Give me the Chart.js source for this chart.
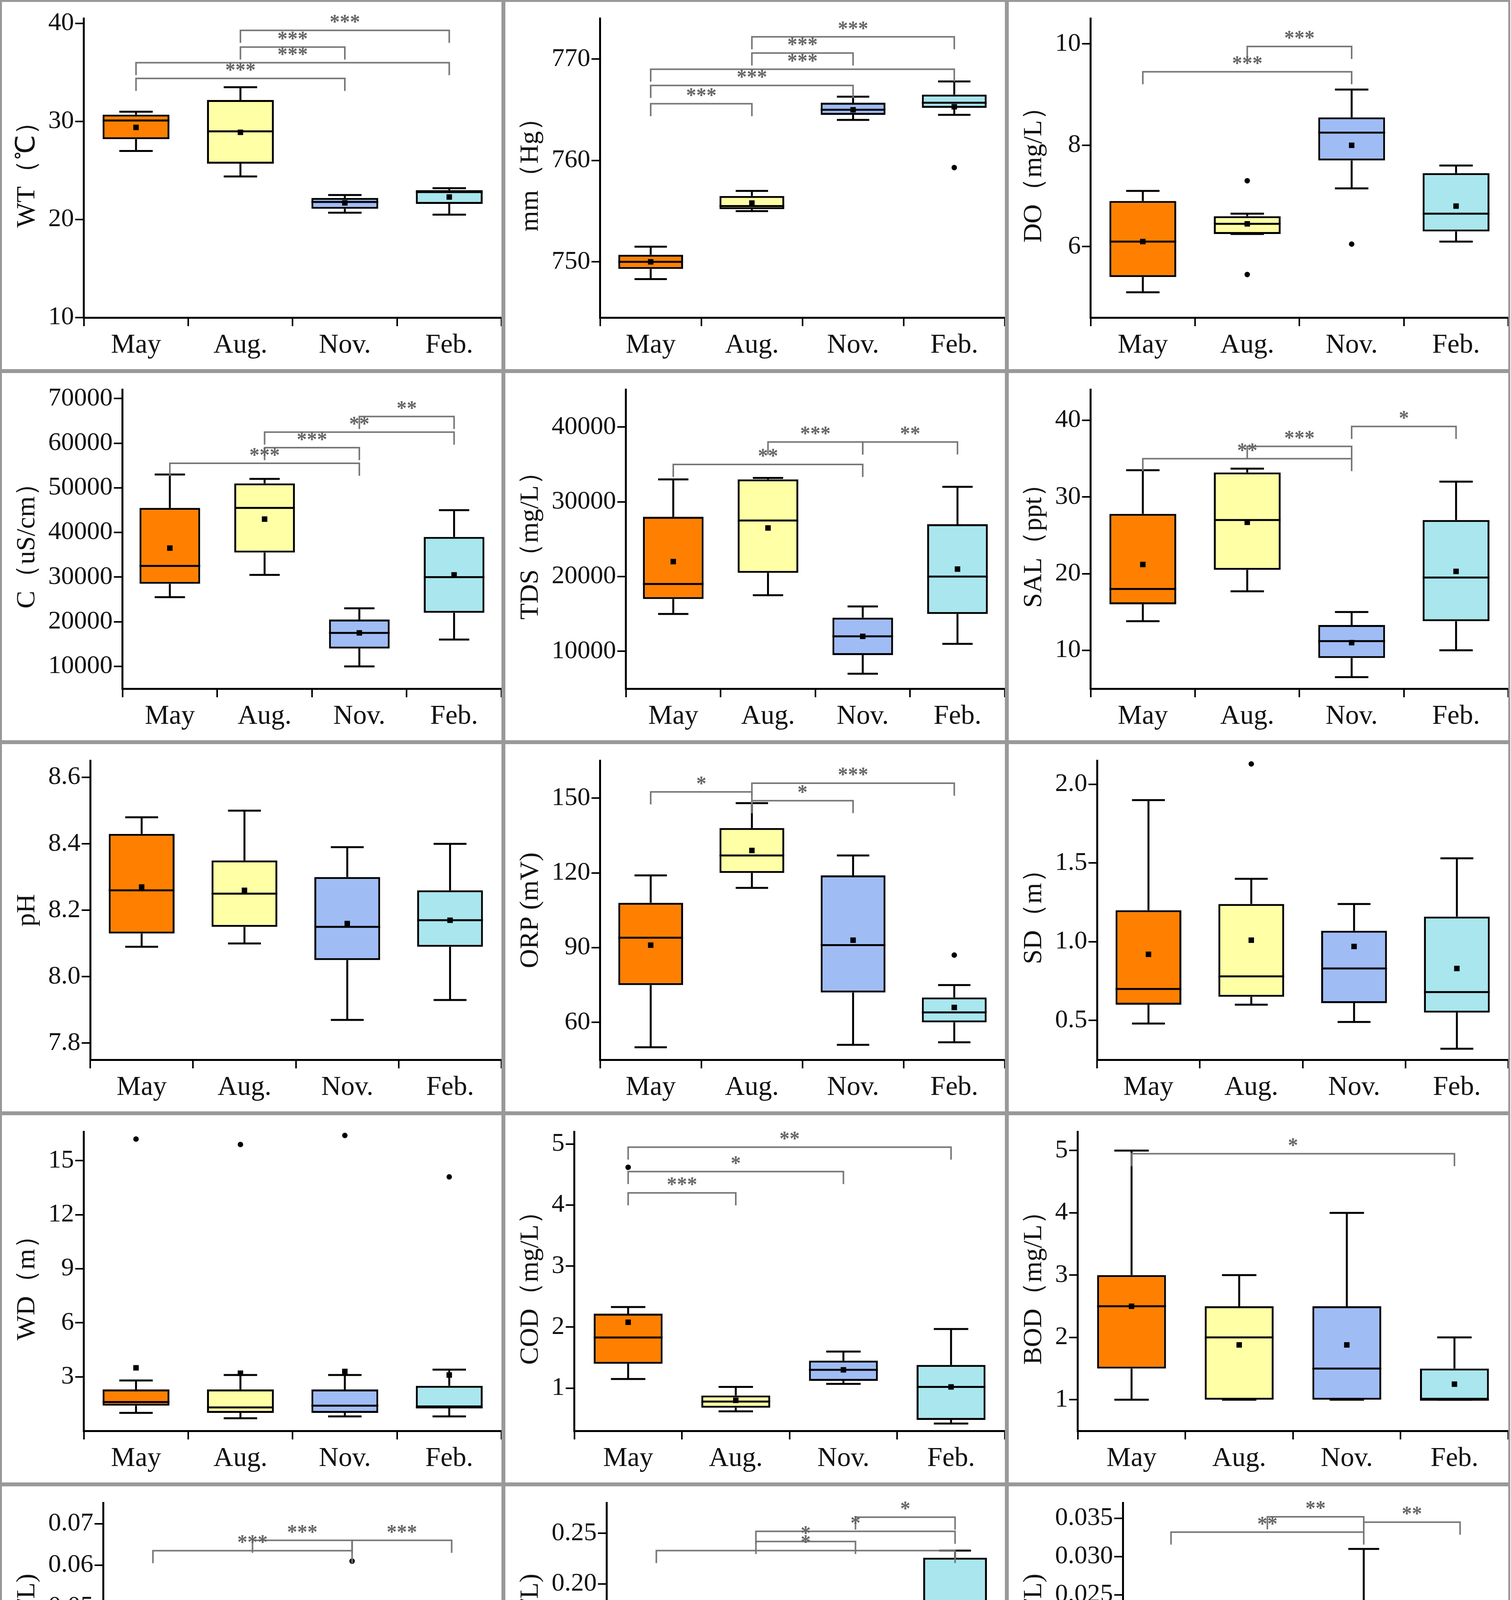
<!DOCTYPE html>
<html><head><meta charset="utf-8">
<script src="https://cdn.jsdelivr.net/npm/chart.js@4"></script>
<style>
body{margin:0;background:#fff;}
#grid{display:grid;grid-template-columns:repeat(3,1289px);grid-template-rows:repeat(6,950px);width:3869px;}
.cell{position:relative;border:5px solid #999;box-sizing:border-box;}
.cell canvas{position:absolute;left:0;top:0;}
</style></head><body><div id="grid"></div>
<script>
const categories=["May","Aug.","Nov.","Feb."];
const colors=["#FF8000","#FFFFA6","#9FBCF5","#A9E6EE"];
// each box: [whiskerLow, q1, median, q3, whiskerHigh]
const titles=["WT（℃）","mm（Hg）","DO（mg/L）","C（uS/cm）","TDS（mg/L）","SAL（ppt）","pH","ORP (mV)","SD（m）","WD（m）","COD（mg/L）","BOD（mg/L）","NH₃-N (mg/L)","NO₃-N (mg/L)","NO₂-N (mg/L)","TP（mg/L）","TN（mg/L）","Chla（mg/L）"];
const yMin=[10,744.5,4.6,5000,5000,5,7.75,45,0.25,0,0.3,0.5,0.003,-0.015,-0.002,0.01,0.08,-0.0008];
const yMax=[40.5,774,10.5,72000,45000,44,8.65,165,2.15,16.6,5.2,5.3,0.075,0.28,0.037,0.19,0.42,0.0168];
const yStep=[10,10,2,10000,10000,10,0.2,30,0.5,3,1,1,0.01,0.05,0.005,0.02,0.05,0.002];
const yFirst=[10,750,6,10000,10000,10,7.8,60,0.5,3,1,1,0.01,0,0,0.02,0.1,0];
const yDec=[0,0,0,0,0,0,1,0,1,0,0,0,2,2,3,2,2,3];
const boxes=[
[[27,28.2,30.1,30.7,31],[24.4,25.7,29,32.2,33.5],[20.7,21.1,21.8,22.2,22.5],[20.5,21.6,22.8,23,23.2]],
[[748.3,749.3,750,750.7,751.5],[755,755.2,755.5,756.5,757],[764,764.5,765,765.7,766.3],[764.5,765.2,765.7,766.5,767.8]],
[[5.1,5.4,6.1,6.9,7.1],[6.25,6.25,6.45,6.6,6.65],[7.15,7.7,8.25,8.55,9.1],[6.1,6.3,6.65,7.45,7.6]],
[[25500,28500,32500,45500,53000],[30500,35500,45500,51000,52000],[10000,14000,17500,20500,23000],[16000,22000,30000,39000,45000]],
[[15000,17000,19000,28000,33000],[17500,20500,27500,33000,33200],[7000,9500,12000,14500,16000],[11000,15000,20000,27000,32000]],
[[13.8,16,18,27.8,33.5],[17.7,20.5,27,33.2,33.7],[6.5,9,11.2,13.3,15],[10,13.8,19.5,27,32]],
[[8.09,8.13,8.26,8.43,8.48],[8.1,8.15,8.25,8.35,8.5],[7.87,8.05,8.15,8.3,8.39],[7.93,8.09,8.17,8.26,8.4]],
[[50,75,94,108,119],[114,120,127,138,148],[51,72,91,119,127],[52,60,64,70,75]],
[[0.48,0.6,0.7,1.2,1.9],[0.6,0.65,0.78,1.24,1.4],[0.49,0.61,0.83,1.07,1.24],[0.32,0.55,0.68,1.16,1.53]],
[[1.0,1.4,1.6,2.3,2.8],[0.7,1.0,1.3,2.3,3.1],[0.8,1.0,1.4,2.3,3.1],[0.8,1.3,1.3,2.5,3.4]],
[[1.15,1.4,1.83,2.22,2.33],[0.62,0.68,0.78,0.88,1.02],[1.07,1.12,1.3,1.45,1.6],[0.42,0.48,1.02,1.38,1.97]],
[[1,1.5,2.5,3,5],[1,1,2,2.5,3],[1,1,1.5,2.5,4],[1,1,1,1.5,2]],
[[0.0055,0.006,0.0065,0.0072,0.008],[0.008,0.0095,0.012,0.0145,0.016],[0.04,0.045,0.048,0.05,0.051],[0.005,0.006,0.0095,0.014,0.016]],
[[0.003,0.005,0.008,0.011,0.014],[0.001,0.002,0.003,0.004,0.005],[0.009,0.012,0.015,0.025,0.031],[0.0,0.085,0.155,0.226,0.233]],
[[0.002,0.0025,0.0045,0.0065,0.009],[0.001,0.0015,0.0025,0.0035,0.004],[0.014,0.0165,0.02,0.0225,0.031],[0.001,0.0015,0.002,0.0025,0.004]],
[[0.028,0.058,0.104,0.143,0.173],[0.019,0.026,0.058,0.107,0.129],[0.047,0.057,0.071,0.091,0.122],[0.023,0.03,0.039,0.051,0.059]],
[[0.138,0.155,0.168,0.2,0.24],[0.143,0.2,0.217,0.298,0.364],[0.173,0.186,0.22,0.241,0.26],[0.12,0.17,0.232,0.271,0.38]],
[[0.0003,0.0008,0.005,0.0068,0.0153],[0.0026,0.0029,0.0039,0.0073,0.0111],[0.0019,0.0029,0.0044,0.0052,0.0055],[0.0012,0.0024,0.0043,0.0051,0.0079]]
];
const means=[[29.4,28.9,21.7,22.3],[750,755.8,765,765.3],[6.1,6.45,8.0,6.8],[36500,43000,17500,30500],[22000,26500,12000,21000],[21.2,26.7,11,20.3],[8.27,8.26,8.16,8.17],[91,129,93,66],[0.92,1.01,0.97,0.83],[3.5,3.2,3.3,3.1],[2.08,0.8,1.3,1.02],[2.5,1.88,1.88,1.25],[0.0065,0.013,0.0485,0.0125],[0.007,0.004,0.018,0.146],[0.005,0.003,0.0195,0.0022],[0.101,0.066,0.076,0.041],[0.178,0.242,0.215,0.231],[0.0051,0.0052,0.0047,0.0041]];
const outliers=[[[],[],[],[]],[[],[],[],[759.3]],[[],[7.3,5.45],[6.05],[]],[[],[],[],[]],[[],[],[],[]],[[],[],[],[]],[[],[],[],[]],[[],[],[],[87]],[[],[2.13],[],[]],[[16.2],[15.9],[16.4],[14.1]],[[4.62],[],[],[]],[[],[],[],[]],[[],[0.023],[0.061],[0.035]],[[],[0.011],[],[]],[[],[0.009],[0.006],[]],[[],[],[],[]],[[],[],[],[]],[[],[],[0.0105],[]]];
// brackets: [from, to, y, label]
const brackets=[
[[1,3,39.3,"***"],[1,2,37.6,"***"],[0,3,36.0,"***"],[0,2,34.4,"***"]],
[[1,3,772.2,"***"],[1,2,770.6,"***"],[0,3,769.0,"***"],[0,2,767.4,"***"],[0,1,765.6,"***"]],
[[1,2,9.95,"***"],[0,2,9.45,"***"]],
[[2,3,66000,"**"],[1,3,62500,"**"],[1,2,59000,"***"],[0,2,55500,"***"]],
[[1,2,38000,"***"],[2,3,38000,"**"],[0,2,35000,"**"]],
[[2,3,39.2,"*"],[1,2,36.6,"***"],[0,2,35.0,"**"]],
[],
[[1,3,156,"***"],[0,1,152.5,"*"],[1,2,149,"*"]],
[],
[],
[[0,3,4.95,"**"],[0,2,4.55,"*"],[0,1,4.2,"***"]],
[[0,3,4.95,"*"]],
[[1,2,0.066,"***"],[2,3,0.066,"***"],[0,2,0.0635,"***"]],
[[2,3,0.266,"*"],[1,3,0.252,"*"],[1,2,0.242,"*"],[0,3,0.233,"*"]],
[[1,2,0.0352,"**"],[2,3,0.0345,"**"],[0,2,0.0332,"**"]],
[[2,3,0.165,"*"]],
[[0,1,0.385,"*"]],
[]
];
const boxPlugin={id:'box',afterDatasetsDraw(chart){
  const k=chart.options.plugins.box.k;const ctx=chart.ctx;const xs=chart.scales.x,ys=chart.scales.y;
  const meta=chart.getDatasetMeta(0);
  ctx.save();
  boxes[k].forEach((b,i)=>{
    const x=xs.getPixelForValue(i);const w=meta.data[i].width;const cw=w*0.5;
    ctx.strokeStyle='#000';ctx.lineWidth=5;
    const line=(x1,y1,x2,y2)=>{ctx.beginPath();ctx.moveTo(x1,y1);ctx.lineTo(x2,y2);ctx.stroke();};
    const p=v=>ys.getPixelForValue(v);
    line(x,p(b[0]),x,p(b[1]));line(x,p(b[3]),x,p(b[4]));
    line(x-cw/2,p(b[0]),x+cw/2,p(b[0]));line(x-cw/2,p(b[4]),x+cw/2,p(b[4]));
    line(x-w/2,p(b[2]),x+w/2,p(b[2]));
    ctx.fillStyle='#000';
    ctx.fillRect(x-7,p(means[k][i])-7,14,14);
    outliers[k][i].forEach(o=>{ctx.beginPath();ctx.arc(x,p(o),7,0,Math.PI*2);ctx.fill();});
  });
  brackets[k].forEach(([a,c,v,lab])=>{
    const x1=xs.getPixelForValue(a),x2=xs.getPixelForValue(c),y=ys.getPixelForValue(v);
    ctx.strokeStyle='#777';ctx.lineWidth=4;
    ctx.beginPath();ctx.moveTo(x1,y+32);ctx.lineTo(x1,y);ctx.lineTo(x2,y);ctx.lineTo(x2,y+32);ctx.stroke();
    ctx.fillStyle='#666';ctx.font='bold 52px "Liberation Serif"';ctx.textAlign='center';ctx.textBaseline='bottom';
    ctx.fillText(lab,(x1+x2)/2,y+8);
  });
  ctx.restore();
}};
Chart.register(boxPlugin);
const grid=document.getElementById('grid');
for(let k=0;k<18;k++){
  const cell=document.createElement('div');cell.className='cell';
  const cv=document.createElement('canvas');cv.width=1279;cv.height=940;cell.appendChild(cv);grid.appendChild(cell);
  const ticks=[];for(let v=yFirst[k];v<=yMax[k]+1e-9;v+=yStep[k])ticks.push(+v.toFixed(6));
  new Chart(cv,{type:'bar',data:{labels:categories,datasets:[{data:boxes[k].map(b=>[b[1],b[3]]),backgroundColor:colors,borderColor:'#000',borderWidth:5,borderSkipped:false,barPercentage:0.64,categoryPercentage:1}]},
  options:{responsive:false,animation:false,devicePixelRatio:1,layout:{padding:{top:30,right:0,left:20,bottom:10}},
   plugins:{legend:{display:false},tooltip:{enabled:false},box:{k:k}},
   scales:{x:{offset:true,grid:{drawOnChartArea:false,color:'#000',lineWidth:4,tickLength:22},border:{color:'#000',width:5},ticks:{color:'#111',font:{family:'Liberation Serif',size:70},padding:8}},
    y:{min:yMin[k],max:yMax[k],afterBuildTicks:s=>{s.ticks=ticks.map(v=>({value:v}));},
     grid:{drawOnChartArea:false,color:'#000',lineWidth:4,tickLength:22},border:{color:'#000',width:5},
     ticks:{color:'#111',font:{family:'Liberation Serif',size:66},callback:v=>Number(v).toFixed(yDec[k])},
     title:{display:true,text:titles[k],color:'#111',font:{family:'Liberation Serif',size:68},padding:{bottom:10}}}}}});
}
</script></body></html>
